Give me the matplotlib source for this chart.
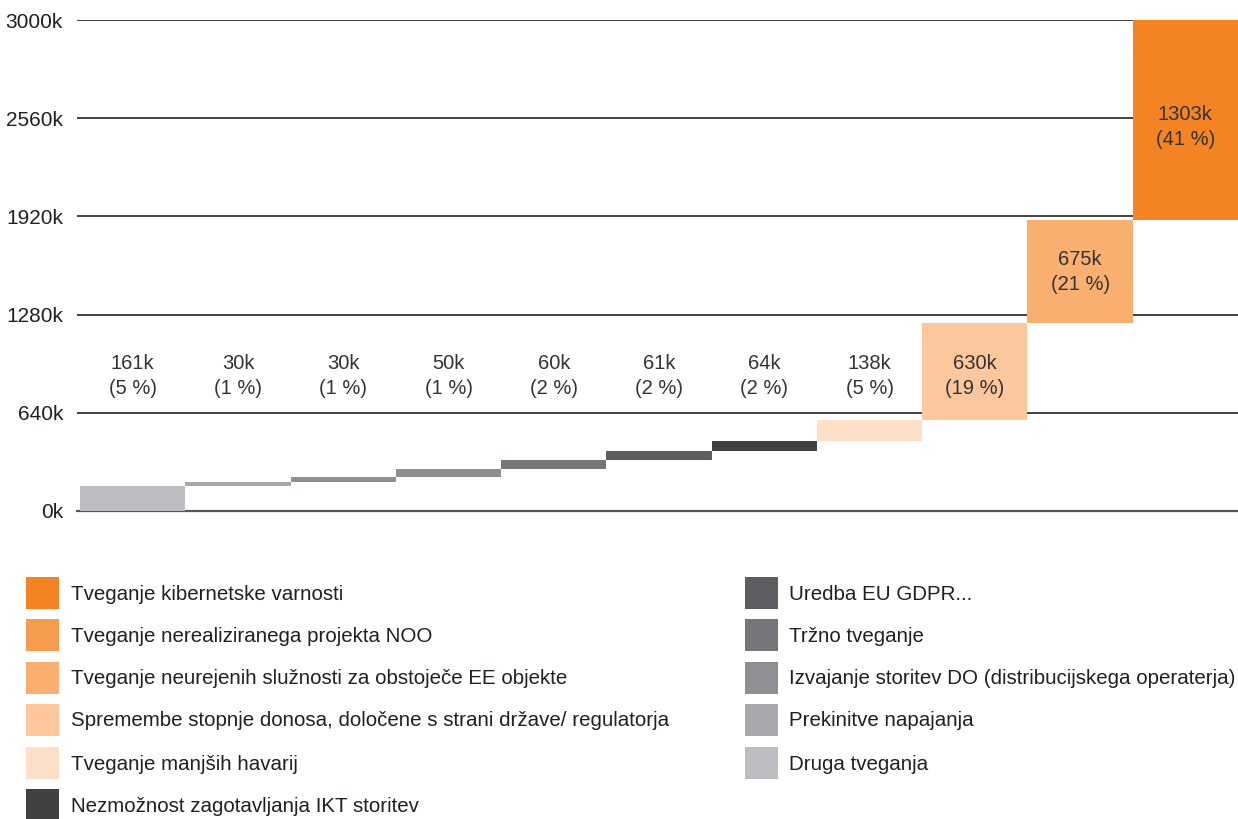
import matplotlib.pyplot as plt
from matplotlib.patches import Rectangle

plt.rcParams['font.family'] = ['Liberation Sans', 'DejaVu Sans']

# values in thousands, in the order the waterfall climbs
values = [161, 30, 30, 50, 60, 61, 64, 138, 630, 675, 1303]
shares = [5, 1, 1, 1, 2, 2, 2, 5, 19, 21, 41]
bar_colors = ['#bcbdc0', '#a7a8ab', '#8e8f92', '#8e8f92', '#75767a', '#5d5e61',
              '#414142', '#fee0c8', '#fcc79c', '#f9af70', '#f38323']

yticks = [0, 640, 1280, 1920, 2560, 3200]
ytick_labels = ['0k', '640k', '1280k', '1920k', '2560k', '3000k']

legend_left = ['Tveganje kibernetske varnosti',
               'Tveganje nerealiziranega projekta NOO',
               'Tveganje neurejenih služnosti za obstoječe EE objekte',
               'Spremembe stopnje donosa, določene s strani države/ regulatorja',
               'Tveganje manjših havarij',
               'Nezmožnost zagotavljanja IKT storitev']
legend_left_colors = ['#f38323', '#f69a4c', '#f9af70', '#fcc79c', '#fee0c8', '#414142']
legend_right = ['Uredba EU GDPR...',
                'Tržno tveganje',
                'Izvajanje storitev DO (distribucijskega operaterja)',
                'Prekinitve napajanja',
                'Druga tveganja']
legend_right_colors = ['#5d5e61', '#75767a', '#8e8f92', '#a7a8ab', '#bcbdc0']

text_col = '#231f20'
label_y = 877  # level of the labels for the small steps

fig = plt.figure(figsize=(12.38, 8.19), dpi=100)
ax = fig.add_axes([77 / 1238, 1 - 511 / 819, 1 - 77 / 1238, (511 - 20) / 819])

bottoms = []
total = 0
for v in values:
    bottoms.append(total)
    total += v

x = list(range(len(values)))
ax.bar(x, values, bottom=bottoms, width=1.0, color=bar_colors, zorder=3)

for i, (v, b, s) in enumerate(zip(values, bottoms, shares)):
    if i < 9:
        y = label_y
    elif b + v > 3200:
        y = (b + 3200) / 2 - 45
    else:
        y = b + v / 2 - 5
    ax.text(i, y, f'{v}k\n({s} %)', ha='center', va='center', fontsize=14.5,
            color='#333333', linespacing=1.4, zorder=4)

ax.set_xlim(-0.53, len(values) - 0.5)
ax.set_ylim(0, 3200)
ax.set_yticks(yticks)
ax.set_yticklabels(ytick_labels, fontsize=15, color=text_col)
ax.tick_params(axis='y', length=0, pad=10)
ax.set_xticks([])
for sp in ['top', 'right', 'left']:
    ax.spines[sp].set_visible(False)
ax.spines['bottom'].set_color('#555555')
ax.spines['bottom'].set_linewidth(1.6)
ax.yaxis.grid(True, color='#222222', linewidth=1.2, zorder=0)
ax.set_axisbelow(True)

# legend drawn in pixel coordinates
lg = fig.add_axes([0, 0, 1, 1], zorder=-1)
lg.set_xlim(0, 1238)
lg.set_ylim(819, 0)
lg.axis('off')
row_y = [593, 635, 678, 720, 763, 805]
for (names, cols, sx, tx) in [(legend_left, legend_left_colors, 26, 71),
                              (legend_right, legend_right_colors, 745, 789)]:
    for name, c, yy in zip(names, cols, row_y):
        lg.add_patch(Rectangle((sx, yy - 16), 33, 32, color=c, lw=0))
        lg.text(tx, yy + 1, name, ha='left', va='center', fontsize=14.8, color=text_col)

fig.savefig('out.png', dpi=100)
